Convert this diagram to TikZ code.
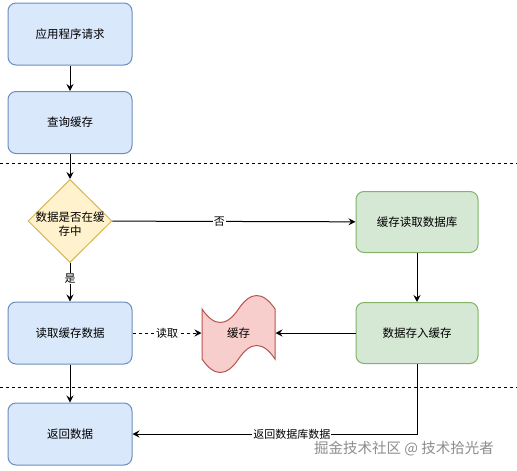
\documentclass[tikz,border=0pt]{standalone}
\usepackage{fontspec}
\setmainfont{Noto Sans CJK SC}
\usetikzlibrary{positioning, arrows.meta, shapes.geometric}

\definecolor{bluefill}{HTML}{DAE8FC}
\definecolor{blueline}{HTML}{6C8EBF}
\definecolor{greenfill}{HTML}{D5E8D4}
\definecolor{greenline}{HTML}{82B366}
\definecolor{yellowfill}{HTML}{FFF2CC}
\definecolor{yellowline}{HTML}{D6B656}
\definecolor{redfill}{HTML}{F8CECC}
\definecolor{redline}{HTML}{B85450}

\tikzset{
  bluebox/.style={draw=blueline, fill=bluefill, rounded corners=8pt, minimum width=124pt, minimum height=62pt},
  greenbox/.style={draw=greenline, fill=greenfill, rounded corners=8pt, minimum width=122pt, minimum height=61pt},
  decide/.style={diamond, draw=yellowline, fill=yellowfill, inner sep=0pt, minimum width=84pt, minimum height=83pt},
  lbl/.style={fill=white, inner sep=1pt, font=\fontsize{11}{13}\selectfont},
}

\begin{document}
\begin{tikzpicture}[x=1pt, y=-1pt, line width=1pt, >={Stealth[length=7pt, width=7pt, inset=2.5pt]}, font=\fontsize{11.5}{14}\selectfont]
        \useasboundingbox (0,0) rectangle (517,471);

        % separators
        \draw[dash pattern=on 3pt off 3pt, line width=0.8pt] (0,163) -- (517,163);
        \draw[dash pattern=on 3pt off 3pt, line width=0.8pt] (0,387) -- (517,387);

        \node[bluebox] (1) at (70,34) {应用程序请求};
        \node[bluebox] (2) at (70,122.5) {查询缓存};
        \node[decide] (3) at (70,221) {};
        \node[align=center, inner sep=0pt] (3t) at (70,224) {数据是否在缓\\存中};
        \node[bluebox] (4) at (70,333) {读取缓存数据};
        \node[bluebox] (5) at (70,434) {返回数据};
        \node[greenbox] (6) at (417,222) {缓存读取数据库};
        \node[greenbox] (7) at (417,333) {数据存入缓存};

        % tape
        \draw[draw=redline, fill=redfill] (202,309) .. controls (214.17,327) and (226.33,327) .. (238.5,309)
              .. controls (250.67,291) and (262.83,291) .. (275,309) -- (275,359)
              .. controls (262.83,341) and (250.67,341) .. (238.5,359)
              .. controls (226.33,377) and (214.17,377) .. (202,359) -- cycle;
        \node[minimum width=73pt, minimum height=50pt, inner sep=0pt] (8) at (238.5,333) {缓存};

        \draw[->] (1) -- (2);
        \draw[->] (2) -- (3);
        \draw[->] (3) -- node[lbl, pos=0.44]{否} (6);
        \draw[->] (3) -- node[lbl, pos=0.4]{是} (4);
        \draw[->] (4) -- (5);
        \draw[->] (6) -- (7);
        \draw[->] (7) -- (8);
        \draw[->, dash pattern=on 3pt off 3pt] (4) -- node[lbl]{读取} (8);
        \draw[->] (7) |- node[lbl, pos=0.72]{返回数据库数据} (5);

        \node[text=black!45, font=\fontsize{14.5}{16}\selectfont] (wm) at (404,449) {掘金技术社区 @ 技术拾光者};
      \end{tikzpicture}
\end{document}
